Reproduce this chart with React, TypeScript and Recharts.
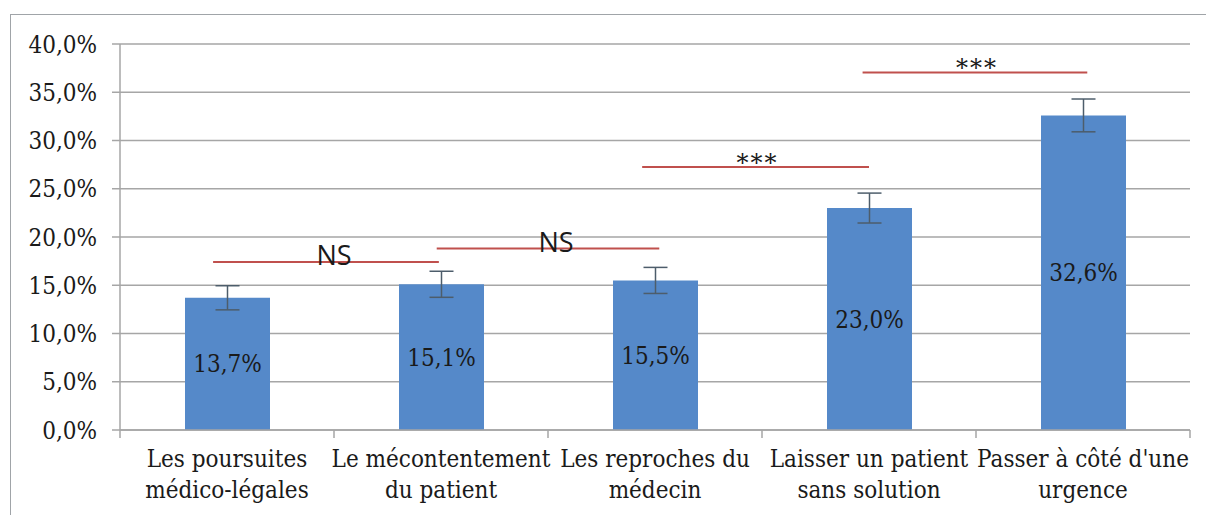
import React from 'react';
import {
  BarChart,
  Bar,
  XAxis,
  YAxis,
  CartesianGrid,
  ErrorBar,
  LabelList,
  ReferenceLine,
} from 'recharts';

const categories = [
  'Les poursuites\nmédico-légales',
  'Le mécontentement\ndu patient',
  'Les reproches du\nmédecin',
  'Laisser un patient\nsans solution',
  "Passer à côté d'une\nurgence",
];
const values = [13.7, 15.1, 15.5, 23.0, 32.6];
const errors = [1.25, 1.35, 1.35, 1.55, 1.7];
const yTicks = [0, 5, 10, 15, 20, 25, 30, 35, 40];

// significance brackets, x in category units (0..5)
const sigLabels = ['NS', 'NS', '***', '***'];
const sigLevels = [17.4, 18.8, 27.25, 37.05];
const sigStart = [0.435, 1.48, 2.44, 3.47];
const sigEnd = [1.49, 2.52, 3.5, 4.52];
const sigDomain = [0, 5];

const data = categories.map((c, i) => ({ name: c, pos: i + 0.5, value: values[i], err: errors[i] }));

const W = 1206;
const H = 515;
const LEFT = 120;
const RIGHT = 16;
const BAND = (W - LEFT - RIGHT) / categories.length;
const GRAY = '#a6a6a6';
const SERIF = "'DejaVu Serif Condensed', 'DejaVu Serif', serif";

const fmt = (v: number) => v.toFixed(1).replace('.', ',') + '%';

const CategoryTick = ({ x, y, payload, index }: any) => {
  const lines = String(payload.value).split('\n');
  return (
    <g>
      <line x1={x - BAND / 2} x2={x - BAND / 2} y1={y} y2={y + 8} stroke={GRAY} strokeWidth={1.5} />
      {index === categories.length - 1 && (
        <line x1={x + BAND / 2} x2={x + BAND / 2} y1={y} y2={y + 8} stroke={GRAY} strokeWidth={1.5} />
      )}
      {lines.map((l, i) => (
        <text key={i} x={x} y={y + 37 + i * 31} textAnchor="middle" fill="#1a1a1a" fontSize={24} fontFamily={SERIF}>
          {l}
        </text>
      ))}
    </g>
  );
};

const sigLabel = (text: string) => (props: any) => {
  const vb = props.viewBox || {};
  const cx = vb.x + (vb.width || 0) / 2;
  const cy = vb.y;
  if (text === 'NS') {
    return (
      <text x={cx + 8} y={cy + 3} textAnchor="middle" fill="#1a1a1a" fontSize={27} fontFamily="Open Sans">
        {text}
      </text>
    );
  }
  return (
    <text x={cx + 2} y={cy + 4} textAnchor="middle" fill="#1a1a1a" fontSize={24} letterSpacing={2} fontFamily="DejaVu Serif">
      {text}
    </text>
  );
};

export default function App() {
  return (
    <div style={{ position: 'absolute', left: 0, top: 0, width: W, height: H, overflow: 'hidden', background: '#fff' }}>
      <div
        style={{
          position: 'absolute',
          left: 10,
          top: 14,
          width: 1300,
          height: 600,
          border: '1.5px solid #a0a4a8',
        }}
      />
      <div style={{ position: 'absolute', left: 0, top: 0 }}>
        <BarChart width={W} height={H} data={data} margin={{ top: 44, right: RIGHT, left: 0, bottom: 0 }}>
          <CartesianGrid vertical={false} stroke={GRAY} strokeWidth={1.5} />
          <XAxis
            dataKey="name"
            height={85}
            interval={0}
            stroke={GRAY}
            strokeWidth={1.5}
            tickLine={false}
            tickSize={0}
            tickMargin={0}
            tick={<CategoryTick />}
          />
          <XAxis
            xAxisId="sig"
            dataKey="pos"
            type="number"
            domain={sigDomain}
            allowDataOverflow={true}
            hide
          />
          <YAxis
            width={LEFT}
            domain={[0, 40]}
            ticks={yTicks}
            interval={0}
            stroke={GRAY}
            strokeWidth={1.5}
            tickSize={8}
            tickMargin={15}
            tickFormatter={fmt}
            tick={{ fill: '#1a1a1a', fontSize: 24, fontFamily: SERIF }}
          />
          <Bar dataKey="value" fill="#5589c9" barSize={85} isAnimationActive={false}>
            <ErrorBar dataKey="err" width={12} stroke="#4d5d6b" strokeWidth={1.5} />
            <LabelList
              dataKey="value"
              position="center"
              formatter={(v: any) => fmt(Number(v))}
              fill="#1a1a1a"
              fontSize={24}
              fontFamily={SERIF}
            />
          </Bar>
          {sigLabels.map((t, i) => (
            <ReferenceLine
              key={i}
              xAxisId="sig"
              segment={[
                { x: sigStart[i], y: sigLevels[i] },
                { x: sigEnd[i], y: sigLevels[i] },
              ]}
              stroke="#c0504d"
              strokeWidth={2}
              ifOverflow="visible"
              label={sigLabel(t)}
            />
          ))}
        </BarChart>
      </div>
    </div>
  );
}
